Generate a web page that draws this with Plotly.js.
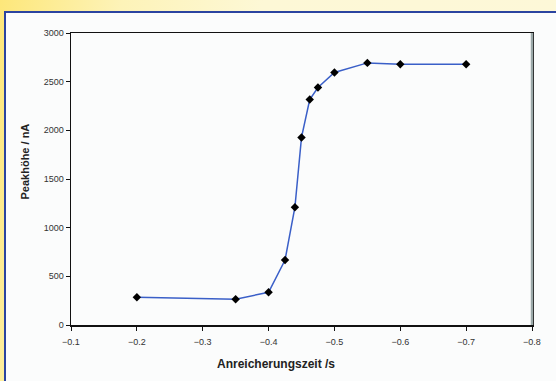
<!DOCTYPE html>
<html>
<head>
<meta charset="utf-8">
<script src="https://cdn.plot.ly/plotly-3.0.1.min.js"></script>
<style>
html,body{margin:0;padding:0;width:556px;height:381px;overflow:hidden;}
body{background:linear-gradient(100deg,#fde77a 0px,#fdf3b8 120px,#fdf8d6 260px,#fdf8d8 556px);position:relative;}
#frame{position:absolute;left:4px;top:11px;width:620px;height:420px;border:2px solid #2b44a0;background:#fbfcfc;box-sizing:border-box;}
#chart{position:absolute;left:0;top:0;width:556px;height:381px;}
</style>
</head>
<body>
<div id="frame"></div>
<div id="chart"></div>
<script>
const xValues = [-0.2, -0.35, -0.4, -0.425, -0.44, -0.45, -0.4625, -0.475, -0.5, -0.55, -0.6, -0.7];
const yValues = [285, 265, 336, 668, 1210, 1927, 2317, 2440, 2594, 2693, 2680, 2680];
const xTicks = [-0.1, -0.2, -0.3, -0.4, -0.5, -0.6, -0.7, -0.8];
const yTicks = [0, 500, 1000, 1500, 2000, 2500, 3000];
const xTitle = 'Anreicherungszeit /s';
const yTitle = 'Peakhöhe / nA';

const trace = {
  x: xValues, y: yValues, type: 'scatter', mode: 'lines+markers',
  line: {color: '#3a5fc8', width: 1.5},
  marker: {symbol: 'diamond', color: '#000', size: 6.5}
};
const layout = {
  width: 556, height: 381,
  margin: {l: 71, r: 24, t: 33, b: 56},
  paper_bgcolor: 'rgba(0,0,0,0)', plot_bgcolor: 'rgba(0,0,0,0)',
  font: {family: 'Liberation Sans, Arial, sans-serif', color: '#333'},
  showlegend: false,
  xaxis: {
    range: [-0.1, -0.8], tickvals: xTicks, ticktext: xTicks.map(v => '\u2212' + Math.abs(v).toFixed(1)),
    showgrid: false, zeroline: false, showline: true, linecolor: '#111', linewidth: 1.5, mirror: true,
    ticks: 'outside', ticklen: 4, tickcolor: '#111', tickfont: {size: 9, color: '#333'},
    ticklabelstandoff: 4
  },
  yaxis: {
    range: [0, 3000], tickvals: yTicks, ticktext: yTicks.map(String),
    showgrid: false, zeroline: false, showline: true, linecolor: '#111', linewidth: 1.5, mirror: true,
    ticks: 'outside', ticklen: 4, tickcolor: '#111', tickfont: {size: 9, color: '#333'}
  },
  shapes: [
    {type: 'line', xref: 'paper', yref: 'paper', x0: 1, x1: 1, y0: 0, y1: 1,
     line: {color: '#9aa8a8', width: 2.5}}
  ],
  annotations: [
    {text: xTitle, xref: 'paper', yref: 'paper', x: 0.445, y: 0, yshift: -39, showarrow: false,
     font: {size: 12, color: '#222', weight: 'bold'}, xanchor: 'center', yanchor: 'middle'},
    {text: yTitle, xref: 'paper', yref: 'paper', x: 0, y: 0.56, xshift: -46, showarrow: false, textangle: -90,
     font: {size: 11, color: '#222', weight: 'bold'}, xanchor: 'center', yanchor: 'middle'}
  ]
};
Plotly.newPlot('chart', [trace], layout, {displayModeBar: false, staticPlot: true});
</script>
</body>
</html>
